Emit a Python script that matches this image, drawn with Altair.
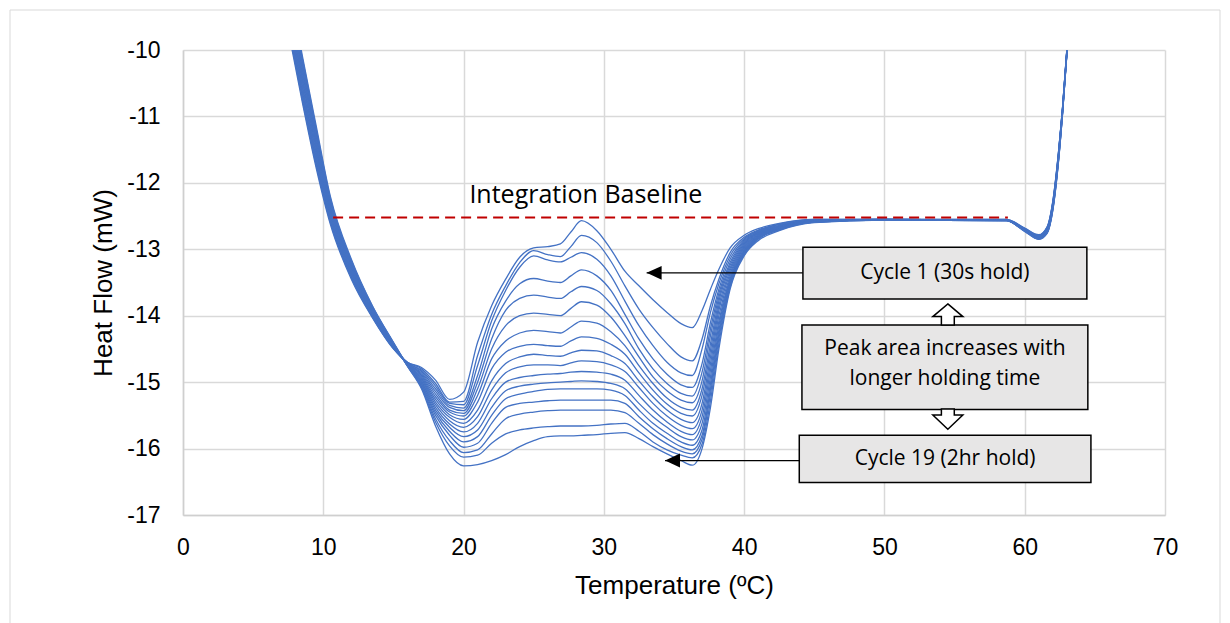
import altair as alt
import pandas as pd

# ---------------- data ----------------
# temperature grid (ºC), shared by every cycle curve
LEFT_T = [7.5, 8.5, 9.5, 10.5, 12.0, 13.5, 15.0, 16.0]
MID_T = [17, 18, 19, 20, 21, 22, 23, 24, 25, 26, 26.9, 27.65, 28.4, 29.5, 30.5,
         31.5, 32.5, 33.5, 34.5, 35.5, 36.3, 37.0, 37.6, 38.2, 39.0, 40.0, 41.0, 42.5]
RIGHT_T = [45, 50, 58.7, 60, 61, 61.6, 62.0, 62.4, 62.7, 63.0, 63.3]

# left branch: one row per temperature, one value per curve (cycle 1 ... last)
LEFT_Y = [
    [-9.70, -9.65, -9.61, -9.56, -9.51, -9.47, -9.42, -9.37, -9.33, -9.28, -9.23, -9.18, -9.14, -9.09, -9.04, -9.00, -8.95],
    [-10.78, -10.74, -10.69, -10.65, -10.61, -10.56, -10.52, -10.47, -10.43, -10.39, -10.34, -10.30, -10.26, -10.21, -10.17, -10.12, -10.08],
    [-11.78, -11.74, -11.70, -11.66, -11.62, -11.58, -11.54, -11.50, -11.47, -11.43, -11.39, -11.35, -11.31, -11.27, -11.23, -11.19, -11.15],
    [-12.62, -12.59, -12.57, -12.54, -12.52, -12.49, -12.46, -12.44, -12.41, -12.38, -12.36, -12.33, -12.31, -12.28, -12.25, -12.23, -12.20],
    [-13.45, -13.43, -13.41, -13.39, -13.38, -13.36, -13.34, -13.32, -13.30, -13.28, -13.26, -13.24, -13.23, -13.21, -13.19, -13.17, -13.15],
    [-14.03, -14.02, -14.01, -14.00, -13.99, -13.97, -13.96, -13.95, -13.94, -13.93, -13.92, -13.91, -13.90, -13.88, -13.87, -13.86, -13.85],
    [-14.50, -14.49, -14.49, -14.48, -14.48, -14.47, -14.46, -14.46, -14.45, -14.44, -14.44, -14.43, -14.43, -14.42, -14.41, -14.41, -14.40],
    [-14.70, -14.70, -14.71, -14.71, -14.72, -14.72, -14.72, -14.73, -14.73, -14.73, -14.74, -14.74, -14.75, -14.75, -14.75, -14.76, -14.76],
]

# melting region: one row per curve (cycle 1 at top ... longest hold at bottom)
MID_Y = [
    [-14.78, -14.97, -15.26, -15.15, -14.40, -13.85, -13.45, -13.12, -12.98, -12.96, -12.92, -12.74, -12.57, -12.72, -13.00, -13.33, -13.55, -13.76, -13.95, -14.12, -14.18, -13.92, -13.60, -13.30, -12.98, -12.79, -12.69, -12.61],
    [-14.80, -15.02, -15.30, -15.29, -14.60, -13.98, -13.55, -13.20, -13.02, -13.08, -13.11, -12.96, -12.79, -12.90, -13.18, -13.55, -13.90, -14.18, -14.42, -14.62, -14.68, -14.35, -13.85, -13.45, -13.05, -12.82, -12.71, -12.62],
    [-14.82, -15.06, -15.32, -15.34, -14.75, -14.08, -13.62, -13.27, -13.10, -13.16, -13.19, -13.12, -13.05, -13.15, -13.40, -13.78, -14.15, -14.45, -14.70, -14.86, -14.90, -14.50, -13.95, -13.52, -13.10, -12.84, -12.72, -12.63],
    [-14.84, -15.10, -15.35, -15.39, -14.90, -14.20, -13.78, -13.52, -13.44, -13.48, -13.50, -13.40, -13.31, -13.40, -13.62, -13.98, -14.35, -14.65, -14.88, -15.04, -15.08, -14.72, -14.10, -13.60, -13.15, -12.86, -12.73, -12.64],
    [-14.86, -15.14, -15.38, -15.43, -15.00, -14.35, -13.92, -13.74, -13.69, -13.72, -13.74, -13.64, -13.56, -13.62, -13.82, -14.12, -14.50, -14.80, -15.02, -15.17, -15.21, -14.85, -14.20, -13.66, -13.20, -12.88, -12.74, -12.65],
    [-14.88, -15.18, -15.42, -15.47, -15.10, -14.50, -14.15, -14.00, -13.96, -13.98, -14.00, -13.89, -13.79, -13.84, -14.02, -14.30, -14.62, -14.92, -15.13, -15.27, -15.31, -14.98, -14.30, -13.72, -13.24, -12.90, -12.75, -12.66],
    [-14.90, -15.22, -15.45, -15.51, -15.20, -14.65, -14.38, -14.26, -14.22, -14.24, -14.26, -14.17, -14.08, -14.11, -14.24, -14.45, -14.75, -15.02, -15.24, -15.38, -15.42, -15.10, -14.42, -13.78, -13.28, -12.92, -12.76, -12.66],
    [-14.92, -15.26, -15.49, -15.56, -15.30, -14.80, -14.55, -14.46, -14.43, -14.45, -14.46, -14.38, -14.32, -14.34, -14.43, -14.58, -14.86, -15.12, -15.33, -15.47, -15.51, -15.20, -14.52, -13.85, -13.32, -12.94, -12.77, -12.67],
    [-14.94, -15.30, -15.53, -15.62, -15.42, -14.98, -14.72, -14.62, -14.58, -14.60, -14.61, -14.56, -14.52, -14.53, -14.60, -14.72, -14.98, -15.22, -15.42, -15.56, -15.61, -15.32, -14.62, -13.92, -13.36, -12.96, -12.78, -12.67],
    [-14.96, -15.34, -15.58, -15.68, -15.52, -15.12, -14.86, -14.77, -14.74, -14.74, -14.75, -14.71, -14.68, -14.69, -14.74, -14.84, -15.08, -15.32, -15.51, -15.65, -15.70, -15.42, -14.72, -14.00, -13.40, -12.98, -12.79, -12.68],
    [-14.98, -15.38, -15.63, -15.75, -15.62, -15.25, -15.00, -14.93, -14.90, -14.88, -14.87, -14.85, -14.84, -14.85, -14.88, -14.97, -15.20, -15.42, -15.60, -15.74, -15.79, -15.52, -14.82, -14.08, -13.44, -13.00, -12.80, -12.68],
    [-15.00, -15.42, -15.68, -15.82, -15.72, -15.38, -15.13, -15.06, -15.03, -15.01, -15.00, -14.99, -14.98, -14.99, -15.02, -15.10, -15.32, -15.52, -15.68, -15.82, -15.87, -15.62, -14.92, -14.15, -13.47, -13.02, -12.81, -12.69],
    [-15.02, -15.46, -15.74, -15.90, -15.82, -15.50, -15.25, -15.18, -15.14, -15.11, -15.10, -15.10, -15.10, -15.10, -15.12, -15.20, -15.42, -15.62, -15.77, -15.90, -15.95, -15.72, -15.02, -14.22, -13.50, -13.04, -12.82, -12.69],
    [-15.04, -15.50, -15.80, -15.98, -15.92, -15.62, -15.38, -15.32, -15.30, -15.28, -15.27, -15.27, -15.27, -15.27, -15.27, -15.32, -15.52, -15.70, -15.85, -15.97, -16.02, -15.80, -15.10, -14.28, -13.52, -13.05, -12.83, -12.70],
    [-15.06, -15.55, -15.88, -16.06, -16.02, -15.78, -15.55, -15.48, -15.45, -15.43, -15.42, -15.42, -15.42, -15.42, -15.42, -15.46, -15.62, -15.79, -15.93, -16.04, -16.08, -15.86, -15.18, -14.34, -13.55, -13.06, -12.84, -12.70],
    [-15.08, -15.60, -15.96, -16.13, -16.10, -15.92, -15.78, -15.72, -15.69, -15.67, -15.66, -15.66, -15.66, -15.65, -15.63, -15.62, -15.74, -15.90, -16.02, -16.10, -16.14, -15.93, -15.28, -14.42, -13.57, -13.08, -12.85, -12.71],
    [-15.10, -15.66, -16.08, -16.26, -16.24, -16.18, -16.09, -15.97, -15.88, -15.82, -15.81, -15.81, -15.80, -15.79, -15.77, -15.76, -15.85, -15.97, -16.08, -16.18, -16.25, -16.00, -15.38, -14.50, -13.60, -13.10, -12.87, -12.72],
]

# right branch: one row per temperature, one value per curve
RIGHT_Y = [
    [-12.55, -12.55, -12.56, -12.56, -12.56, -12.57, -12.57, -12.57, -12.57, -12.58, -12.58, -12.58, -12.58, -12.59, -12.59, -12.59, -12.60],
    [-12.55, -12.55, -12.55, -12.55, -12.55, -12.55, -12.55, -12.56, -12.56, -12.56, -12.56, -12.56, -12.56, -12.56, -12.56, -12.56, -12.56],
    [-12.55, -12.55, -12.56, -12.56, -12.56, -12.56, -12.56, -12.56, -12.56, -12.56, -12.56, -12.56, -12.57, -12.57, -12.57, -12.57, -12.57],
    [-12.68, -12.69, -12.69, -12.69, -12.70, -12.70, -12.70, -12.70, -12.71, -12.71, -12.71, -12.71, -12.72, -12.72, -12.72, -12.73, -12.73],
    [-12.78, -12.79, -12.79, -12.80, -12.80, -12.81, -12.81, -12.82, -12.82, -12.82, -12.83, -12.83, -12.83, -12.84, -12.84, -12.85, -12.85],
    [-12.66, -12.67, -12.67, -12.68, -12.69, -12.69, -12.70, -12.71, -12.71, -12.72, -12.72, -12.73, -12.74, -12.74, -12.75, -12.75, -12.76],
    [-12.28, -12.29, -12.30, -12.31, -12.32, -12.33, -12.33, -12.34, -12.35, -12.36, -12.37, -12.37, -12.38, -12.39, -12.40, -12.41, -12.42],
    [-11.55, -11.56, -11.57, -11.58, -11.59, -11.60, -11.61, -11.61, -11.62, -11.63, -11.64, -11.65, -11.66, -11.67, -11.68, -11.69, -11.70],
    [-10.85, -10.86, -10.86, -10.87, -10.88, -10.88, -10.89, -10.90, -10.90, -10.91, -10.92, -10.92, -10.93, -10.94, -10.94, -10.95, -10.95],
    [-10.00, -10.01, -10.01, -10.02, -10.02, -10.03, -10.03, -10.04, -10.04, -10.05, -10.05, -10.06, -10.06, -10.07, -10.07, -10.08, -10.08],
    [-9.30, -9.31, -9.31, -9.32, -9.32, -9.33, -9.33, -9.34, -9.34, -9.35, -9.35, -9.36, -9.36, -9.37, -9.37, -9.38, -9.38],
]

# integration baseline
BASE_T = [10.7, 58.8]
BASE_Y = [-12.52, -12.52]

# annotation boxes (ºC / mW extents) and their texts
BOX_T1 = [44.19, 44.12, 43.93]
BOX_T2 = [64.43, 64.50, 64.72]
BOX_Y1 = [-12.97, -14.14, -15.80]
BOX_Y2 = [-13.75, -15.41, -16.51]
BOX_TXT = ["Cycle 1 (30s hold)", "Peak area increases with\nlonger holding time", "Cycle 19 (2hr hold)"]
BOX_TXT_Y = [-13.36, -14.50, -16.15]

# pointer arrows from the boxes to the curves
ARR_T_TIP = [33.05, 34.36]
ARR_T_END = [44.19, 43.93]
ARR_Y = [-13.355, -16.18]

# hollow block arrows between the boxes
BLOCK_T = [54.52, 54.52]
BLOCK_Y = [-13.98, -15.557]

# ---------------- build tables ----------------
rows = []
all_t = LEFT_T + MID_T + RIGHT_T
for k in range(len(MID_Y)):
    ys = [r[k] for r in LEFT_Y] + MID_Y[k] + [r[k] for r in RIGHT_Y]
    for t, y in zip(all_t, ys):
        rows.append({"cycle": k + 1, "T": t, "HF": y})
curves = pd.DataFrame(rows)

base_df = pd.DataFrame({"T": BASE_T, "HF": BASE_Y})
box_df = pd.DataFrame({"T": BOX_T1, "T2": BOX_T2, "HF": BOX_Y1, "HF2": BOX_Y2,
                       "label": BOX_TXT, "ty": BOX_TXT_Y})
box_df["tx"] = (box_df["T"] + box_df["T2"]) / 2
arr_df = pd.DataFrame({"T": ARR_T_TIP, "T2": ARR_T_END, "HF": ARR_Y})
up_df = pd.DataFrame({"T": BLOCK_T[:1], "HF": BLOCK_Y[:1]})
dn_df = pd.DataFrame({"T": BLOCK_T[1:], "HF": BLOCK_Y[1:]})
lbl_df = pd.DataFrame({"T": [28.72], "HF": [-12.19], "label": ["Integration Baseline"]})

AX_FONT = "Liberation Sans"
GRID = "#d9d9d9"

xscale = alt.Scale(domain=[0, 70], nice=False, zero=False)
yscale = alt.Scale(domain=[-17, -10], nice=False, zero=False)

X = alt.X("T:Q", scale=xscale,
          axis=alt.Axis(values=[0, 10, 20, 30, 40, 50, 60, 70], title="Temperature (ºC)",
                        labelExpr="'' + datum.value", labelFlush=False,
                        ticks=False, grid=True, gridColor=GRID, gridWidth=1.5,
                        domainColor="#cfcfcf", domainWidth=1.5,
                        labelFont=AX_FONT, labelFontSize=23, labelColor="#000000",
                        labelPadding=21, titleFont=AX_FONT, titleFontSize=26,
                        titleFontWeight="normal", titleColor="#000000", titlePadding=13))
Y = alt.Y("HF:Q", scale=yscale,
          axis=alt.Axis(values=[-17, -16, -15, -14, -13, -12, -11, -10], title="Heat Flow (mW)",
                        labelExpr="'' + datum.value", labelFlush=False,
                        ticks=False, grid=True, gridColor=GRID, gridWidth=1.5,
                        domainColor="#cfcfcf", domainWidth=1.5,
                        labelFont=AX_FONT, labelFontSize=23, labelColor="#000000",
                        labelPadding=23, titleFont=AX_FONT, titleFontSize=26,
                        titleFontWeight="normal", titleColor="#000000", titlePadding=10))

frame = alt.Chart(pd.DataFrame({"a": [0]})).mark_rect(
    fill="white", fillOpacity=0, stroke="#d9d9d9", strokeWidth=1
).encode(x=alt.value(-173), x2=alt.value(1037), y=alt.value(-40), y2=alt.value(600))

lines = alt.Chart(curves).mark_line(
    interpolate="monotone", clip=True, color="#4472C4", strokeWidth=1.3
).encode(x=X, y=Y, detail="cycle:N")

baseline = alt.Chart(base_df).mark_line(
    color="#C00000", strokeWidth=2, strokeDash=[10, 6]
).encode(x="T:Q", y="HF:Q")

base_lbl = alt.Chart(lbl_df).mark_text(
    font="Open Sans", fontSize=25, color="#000000", baseline="middle", align="center"
).encode(x="T:Q", y="HF:Q", text="label:N")

pointer = alt.Chart(arr_df).mark_rule(color="#000000", strokeWidth=1.2).encode(
    x="T:Q", x2="T2:Q", y="HF:Q")

heads = alt.Chart(arr_df).mark_point(
    shape="M 0 0 L 2 -0.93 L 2 0.93 Z", size=225, filled=True, color="#000000", opacity=1
).encode(x="T:Q", y="HF:Q")

boxes = alt.Chart(box_df).mark_rect(
    fill="#e7e6e6", stroke="#000000", strokeWidth=1.5
).encode(x="T:Q", x2="T2:Q", y="HF:Q", y2="HF2:Q")

box_txt = alt.Chart(box_df).mark_text(
    font="Open Sans", fontSize=21, color="#000000", lineBreak="\n", lineHeight=30,
    baseline="middle", align="center"
).encode(x="tx:Q", y="ty:Q", text="label:N")

up_arrow = alt.Chart(up_df).mark_point(
    shape="M 0 -0.7 L 1 0.147 L 0.43 0.147 L 0.43 0.7 L -0.43 0.7 L -0.43 0.147 L -1 0.147 Z",
    size=900, filled=True, fill="white", stroke="#000000", strokeWidth=1.5, opacity=1
).encode(x="T:Q", y="HF:Q")

dn_arrow = alt.Chart(dn_df).mark_point(
    shape="M -0.43 -0.677 L 0.43 -0.677 L 0.43 -0.28 L 1 -0.28 L 0 0.677 L -1 -0.28 L -0.43 -0.28 Z",
    size=900, filled=True, fill="white", stroke="#000000", strokeWidth=1.5, opacity=1
).encode(x="T:Q", y="HF:Q")

chart = alt.layer(
    frame, lines, baseline, base_lbl, pointer, heads, boxes, box_txt, up_arrow, dn_arrow
).properties(
    width=982, height=465,
    autosize=alt.AutoSizeParams(type="none"),
    padding={"left": 183, "top": 50, "right": 65, "bottom": 108},
    background="white",
).configure_view(strokeWidth=0)

chart.save("out.html", embed_options={"renderer": "svg", "actions": False})
